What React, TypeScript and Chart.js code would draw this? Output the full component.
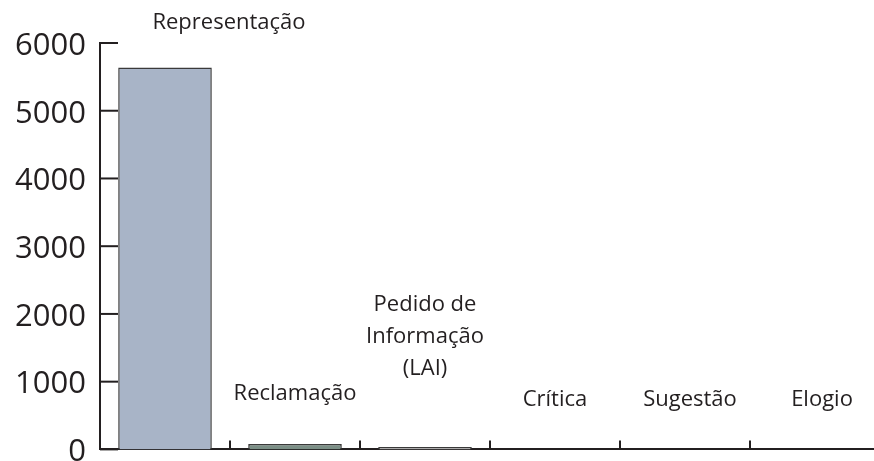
import React, { useEffect, useRef } from "react";
import { Chart, registerables } from "chart.js";

Chart.register(...registerables);

const categories = ["Representação", "Reclamação", "Pedido de Informação (LAI)", "Crítica", "Sugestão", "Elogio"];
const labelLines = [["Representação"], ["Reclamação"], ["Pedido de", "Informação", "(LAI)"], ["Crítica"], ["Sugestão"], ["Elogio"]];
const values = [5640, 80, 35, 0, 0, 0];
const barColors = ["#a8b4c7", "#7b8f86", "#d9d9d9", "#d9d9d9", "#d9d9d9", "#d9d9d9"];
const yTicks = [0, 1000, 2000, 3000, 4000, 5000, 6000];
const labelDx = [64, 0, 0, 0, 5, 7];
const labelGap = [45, 50, 78, 50, 50, 50];

const FONT = "'Open Sans', 'Noto Sans', sans-serif";
const AXIS = "#231f20";

const decorPlugin = {
  id: "decor",
  afterDraw(chart: any) {
    const ctx = chart.ctx;
    const ys = chart.scales.y;
    const xs = chart.scales.x;
    const area = chart.chartArea;
    ctx.save();
    ctx.strokeStyle = AXIS;
    ctx.lineWidth = 2;
    ys.ticks.forEach((t: any) => {
      const y = ys.getPixelForValue(t.value);
      ctx.beginPath();
      ctx.moveTo(area.left, y);
      ctx.lineTo(area.left + 18, y);
      ctx.stroke();
    });
    for (let i = 1; i < categories.length; i++) {
      const x = (xs.getPixelForValue(i - 1) + xs.getPixelForValue(i)) / 2;
      ctx.beginPath();
      ctx.moveTo(x, area.bottom);
      ctx.lineTo(x, area.bottom - 9);
      ctx.stroke();
    }
    const meta = chart.getDatasetMeta(0);
    ctx.fillStyle = "#231f20";
    ctx.font = `22px ${FONT}`;
    ctx.textAlign = "center";
    ctx.textBaseline = "middle";
    meta.data.forEach((bar: any, i: number) => {
      const lines = labelLines[i];
      const x = bar.x + labelDx[i];
      const yb = bar.y - labelGap[i];
      lines.forEach((ln, j) => {
        ctx.fillText(ln, x, yb - (lines.length - 1 - j) * 32);
      });
    });
    ctx.restore();
  },
};

export default function App() {
  const ref = useRef<HTMLCanvasElement>(null);
  useEffect(() => {
    if (!ref.current) return;
    const chart = new Chart(ref.current, {
      type: "bar",
      data: {
        labels: categories,
        datasets: [
          {
            data: values,
            backgroundColor: barColors,
            borderColor: "#3a3a3a",
            borderWidth: 1.5,
            barPercentage: 0.72,
            categoryPercentage: 1,
          },
        ],
      },
      options: {
        animation: false,
        responsive: false,
        layout: { padding: { top: 43, left: 0, right: 6, bottom: 0 } },
        plugins: { legend: { display: false }, tooltip: { enabled: false } },
        scales: {
          x: {
            grid: { display: false },
            border: { display: true, color: AXIS, width: 2 },
            ticks: { display: false },
            afterFit(scale: any) {
              scale.height = 13;
            },
          },
          y: {
            min: 0,
            max: 6000,
            afterBuildTicks(scale: any) {
              scale.ticks = yTicks.map((v) => ({ value: v }));
            },
            grid: { display: false },
            border: { display: true, color: AXIS, width: 2 },
            ticks: {
              color: AXIS,
              font: { family: FONT, size: 31 },
              padding: 6,
              labelOffset: 3,
              callback: (v: any) => String(v),
            },
            afterFit(scale: any) {
              scale.width = 100;
            },
          },
        },
      },
      plugins: [decorPlugin],
    });
    return () => chart.destroy();
  }, []);
  return (
    <div style={{ position: "fixed", left: 0, top: 0, width: 874, height: 461, overflow: "hidden", background: "#fff" }}>
      <canvas ref={ref} width={886} height={474} style={{ display: "block" }} />
    </div>
  );
}
